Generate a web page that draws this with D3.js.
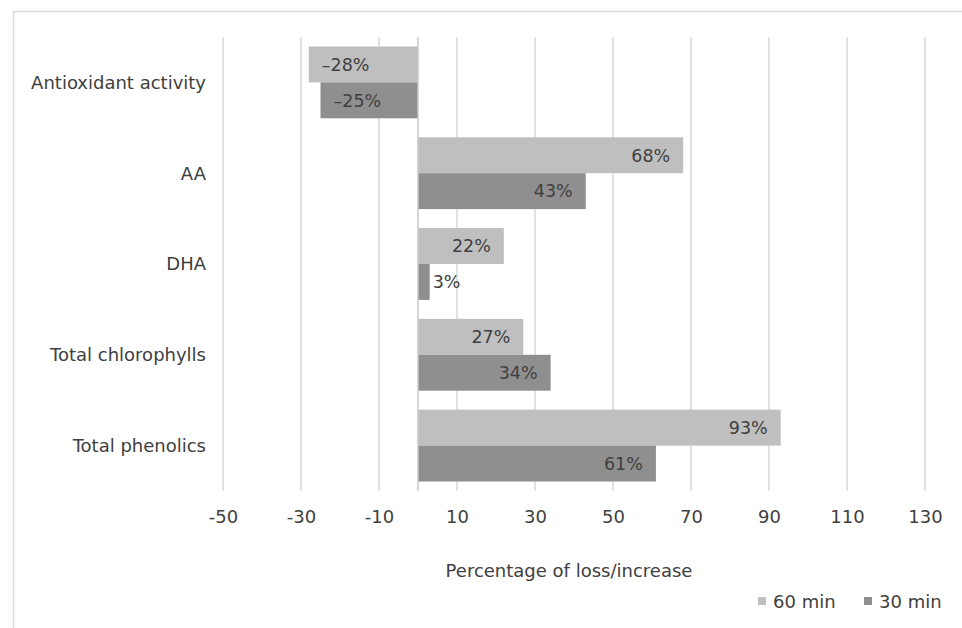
<!DOCTYPE html>
<html>
<head>
<meta charset="utf-8">
<script src="https://cdn.jsdelivr.net/npm/d3@7"></script>
<style>
  html, body { margin: 0; padding: 0; background: #ffffff; }
  svg { display: block; }
  text { font-family: "DejaVu Sans", Verdana, sans-serif; fill: #404040; }
</style>
</head>
<body>
<svg id="chart" width="962" height="628"></svg>
<script>
// ---- data ----
const categories = ["Antioxidant activity", "AA", "DHA", "Total chlorophylls", "Total phenolics"];
const seriesNames = ["60 min", "30 min"];
const values60 = [-28, 68, 22, 27, 93];
const values30 = [-25, 43, 3, 34, 61];
const tickValues = [-50, -30, -10, 10, 30, 50, 70, 90, 110, 130];
const axisTitle = "Percentage of loss/increase";
const colors = ["#bfbfbf", "#8f8f8f"];

const seriesValues = [values60, values30];

const svg = d3.select("#chart");
const W = 962, H = 628;

// chart area border
svg.append("rect")
  .attr("x", 13.5).attr("y", 11.5)
  .attr("width", 1000).attr("height", 700)
  .attr("fill", "none").attr("stroke", "#d9d9d9").attr("stroke-width", 1.5);

const plot = { left: 223, right: 925, top: 37, bottom: 491 };

const x = d3.scaleLinear().domain([-50, 130]).range([plot.left, plot.right]);
const y = d3.scaleBand().domain(categories).range([plot.top, plot.bottom])
  .paddingInner(0.209).paddingOuter(0.1045);
const ys = d3.scaleBand().domain(seriesNames).range([0, y.bandwidth()]).padding(0);

// gridlines
svg.append("g").selectAll("line").data(tickValues).join("line")
  .attr("x1", d => x(d)).attr("x2", d => x(d))
  .attr("y1", plot.top).attr("y2", plot.bottom)
  .attr("stroke", "#d9d9d9").attr("stroke-width", 1.5);

// tick labels via axis
const axis = d3.axisBottom(x).tickValues(tickValues).tickSize(0).tickPadding(0)
  .tickFormat(d => String(d).replace("\u2212", "-"));
const gAxis = svg.append("g").attr("transform", `translate(0,${plot.bottom})`).call(axis);
gAxis.select(".domain").remove();
gAxis.selectAll("text")
  .attr("y", 32).attr("dy", null)
  .style("font-size", "18px").style("font-family", "'DejaVu Sans', Verdana, sans-serif")
  .attr("fill", "#404040");

// bars
const rows = [];
categories.forEach((c, i) => {
  seriesNames.forEach((s, j) => rows.push({ cat: c, series: s, j, value: seriesValues[j][i] }));
});

svg.append("g").selectAll("rect").data(rows).join("rect")
  .attr("x", d => x(Math.min(0, d.value)))
  .attr("width", d => Math.abs(x(d.value) - x(0)))
  .attr("y", d => y(d.cat) + ys(d.series))
  .attr("height", ys.bandwidth())
  .attr("fill", d => colors[d.j]);

// zero axis line
svg.append("line")
  .attr("x1", x(0)).attr("x2", x(0))
  .attr("y1", plot.top).attr("y2", plot.bottom)
  .attr("stroke", "#c8c8c8").attr("stroke-width", 1.5);

// data labels
const fmt = v => (v < 0 ? "\u2013" + Math.abs(v) : String(v)) + "%";
const labels = svg.append("g").selectAll("text").data(rows).join("text")
  .attr("y", d => y(d.cat) + ys(d.series) + ys.bandwidth() / 2)
  .attr("dy", "0.36em")
  .style("font-size", "17.5px")
  .text(d => fmt(d.value));
labels.each(function(d) {
  const t = d3.select(this);
  const w = this.getComputedTextLength();
  const barW = Math.abs(x(d.value) - x(0));
  if (d.value >= 0) {
    if (barW > w + 20) t.attr("x", x(d.value) - 13).attr("text-anchor", "end");
    else t.attr("x", x(d.value) + 3).attr("text-anchor", "start");
  } else {
    if (barW > w + 20) t.attr("x", x(d.value) + 13).attr("text-anchor", "start");
    else t.attr("x", x(d.value) - 3).attr("text-anchor", "end");
  }
});

// category labels
svg.append("g").selectAll("text").data(categories).join("text")
  .attr("x", 206)
  .attr("y", d => y(d) + y.bandwidth() / 2)
  .attr("dy", "0.36em")
  .attr("text-anchor", "end")
  .style("font-size", "18px")
  .text(d => d);

// axis title
svg.append("text")
  .attr("x", (plot.left + plot.right) / 2 - 5)
  .attr("y", 577)
  .attr("text-anchor", "middle")
  .style("font-size", "18px")
  .text(axisTitle);

// legend
const legendX = [758, 864];
const lg = svg.append("g").selectAll("g").data(seriesNames).join("g")
  .attr("transform", (d, i) => `translate(${legendX[i]},0)`);
lg.append("rect").attr("x", 0).attr("y", 597).attr("width", 8).attr("height", 8)
  .attr("fill", (d, i) => colors[i]);
lg.append("text").attr("x", 15).attr("y", 608)
  .style("font-size", "18px").text(d => d);
</script>
</body>
</html>
